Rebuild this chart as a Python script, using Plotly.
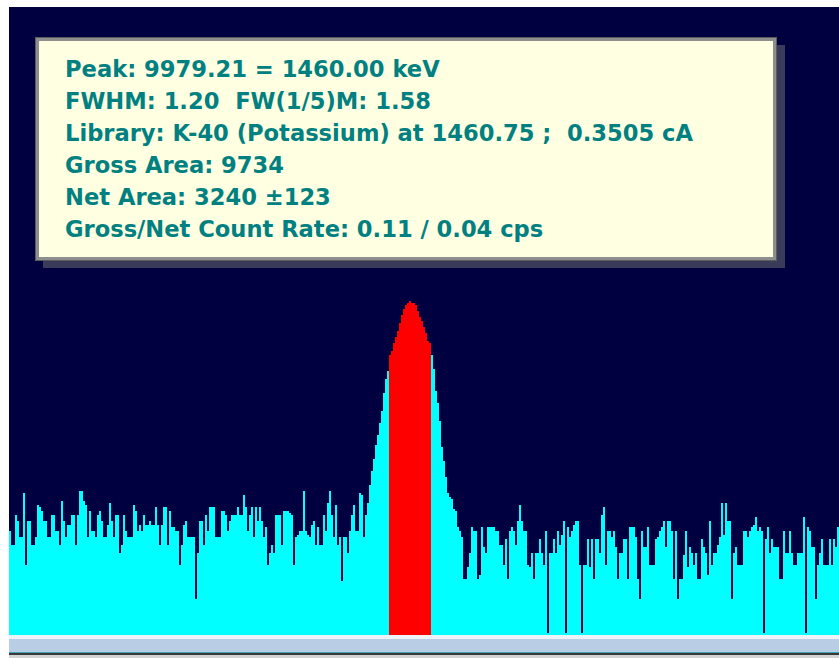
import plotly.graph_objects as go

# Canvas / plot-area geometry (pixels)
W, H = 839, 658
PLOT_L, PLOT_T, PLOT_B = 9, 7, 635

# Spectrum counts per display channel
counts_a = [52, 45, 45, 60, 57, 49, 49, 71, 35, 57, 57, 45, 45, 49, 65, 64, 62, 57, 57, 49,
            49, 60, 60, 52, 52, 45, 67, 57, 49, 55, 55, 60, 60, 45, 60, 72, 72, 67, 65, 49,
            62, 52, 52, 49, 60, 62, 57, 49, 49, 55, 66, 57, 49, 60, 60, 41, 45, 60, 52, 49,
            49, 49, 65, 62, 52, 55, 52, 60, 55, 55]
counts_b = [57, 55, 55, 64, 55, 45, 55, 64, 64, 45, 62, 54, 54, 52, 52, 35, 45, 55, 57, 49,
            49, 49, 49, 18, 41, 57, 57, 45, 60, 52, 64, 64, 64, 49, 49, 49, 62, 62, 60, 52,
            57, 60, 60, 60, 64, 60, 60, 70, 64, 52, 60, 64, 49, 64, 57, 64, 57, 49, 54, 35,
            41, 45, 41, 60, 60, 60, 45, 62, 62, 62]
counts_c = [61, 60, 35, 49, 50, 52, 52, 72, 52, 50, 49, 55, 57, 45, 54, 45, 45, 60, 52, 66,
            72, 60, 49, 65, 45, 49, 27, 49, 49, 41]
counts_left_flank = [52, 60, 65, 52, 52, 71, 70, 49, 60, 66, 75, 82, 88, 95, 100, 106, 112,
                     121, 128, 132]
counts_peak = [140, 142, 146, 149, 152, 156, 160, 163, 165, 166, 167, 166, 166, 165, 162,
               159, 157, 154, 151, 147, 146]
counts_d = [140, 133, 122, 116, 107, 94, 87, 79, 71, 69, 68, 63, 62, 54, 52, 49, 28, 28, 34, 41,
            54, 52, 52, 28, 30, 54, 44, 41, 54, 54, 54, 54, 52, 52, 45, 45, 35, 48, 28, 52,
            54, 52, 45, 57, 65, 57, 52, 52, 35, 34, 41, 28, 41, 41, 48, 41, 35, 52, 1, 41,
            41, 48, 41, 52, 45, 50, 57, 1]
counts_e = [54, 49, 52, 55, 57, 57, 35, 1, 35, 35, 48, 34, 48, 28, 48, 48, 41, 60, 64, 35,
            52, 52, 49, 52, 44, 28, 41, 41, 48, 48, 28, 54, 54, 54, 49, 28, 18, 52, 44, 44,
            54, 35, 35, 35, 48, 49, 52, 54, 57, 44, 57, 57, 52, 28, 52, 18, 28, 28, 40, 52,
            34, 44, 41, 35, 41, 28, 28, 48, 44, 41, 30]
counts_f = [57, 35, 41, 41, 45, 49, 66, 50, 66, 57, 57, 18, 41, 44, 35, 35, 35, 52, 52, 49,
            52, 54, 55, 59, 52, 54, 52, 1, 48, 54, 41, 48, 44, 44, 44, 28, 28, 52, 41, 41,
            52, 41, 35, 35, 41, 41, 41, 59, 1, 54, 52, 44, 44, 18, 35, 41, 48, 35, 35, 35,
            48, 35, 48, 44, 54]

counts = (counts_a + counts_b + counts_c + counts_left_flank + counts_peak
          + counts_d + counts_e + counts_f)
channels = list(range(len(counts)))

# Region of interest (peak) channels
roi_start = len(counts_a + counts_b + counts_c + counts_left_flank)
roi_end = roi_start + len(counts_peak) - 1

Y_MAX = 314

info_lines = [
    "Peak: 9979.21 = 1460.00 keV",
    "FWHM: 1.20 \u00a0FW(1/5)M: 1.58",
    "Library: K-40 (Potassium) at 1460.75 ; \u00a00.3505 cA",
    "Gross Area: 9734",
    "Net Area: 3240 \u00b1123",
    "Gross/Net Count Rate: 0.11 / 0.04 cps",
]

NAVY = "#000040"
CYAN = "#00FFFF"
RED = "#FF0000"
TEAL_TEXT = "#008080"
CREAM = "#FFFFE1"


def px_x(px):
    return (px - PLOT_L) / (W - PLOT_L)


def px_y(py):
    return (PLOT_B - py) / (PLOT_B - PLOT_T)


bar_colors = [RED if roi_start <= ch <= roi_end else CYAN for ch in channels]

fig = go.Figure(
    go.Bar(
        x=channels,
        y=counts,
        width=1,
        marker=dict(color=bar_colors, line=dict(width=0)),
        hoverinfo="skip",
    )
)


def rect(x0, y0, x1, y1, color):
    return dict(type="rect", xref="paper", yref="paper",
                x0=px_x(x0), x1=px_x(x1), y0=px_y(y1), y1=px_y(y0),
                fillcolor=color, line=dict(width=0), layer="above")


shapes = [
    # info box: shadow, frame, face
    rect(43, 45, 785, 268, "#3a3a5a"),
    rect(35, 37, 777, 261, "#5c5c5c"),
    rect(36, 38, 776, 260, "#8e8e8e"),
    rect(39, 41, 773, 257, CREAM),
    # strip under the spectrum
    rect(9, 635, 839, 639, "#EEF3F9"),
    rect(9, 639, 839, 652, "#B9CDE5"),
    rect(9, 652, 839, 653, "#3FA3B5"),
    rect(9, 653, 839, 655, "#3a3a3a"),
    rect(9, 655, 839, 658, "#D4D4D4"),
]

annotations = []
for i, line in enumerate(info_lines):
    annotations.append(dict(
        text=line, xref="paper", yref="paper",
        x=px_x(63), y=px_y(69 + 32 * i),
        xanchor="left", yanchor="middle", showarrow=False,
        font=dict(family="DejaVu Sans, Verdana, sans-serif", size=22.6,
                  color=TEAL_TEXT, weight="bold"),
    ))

fig.update_layout(
    width=W, height=H,
    margin=dict(l=PLOT_L, r=0, t=PLOT_T, b=H - PLOT_B),
    paper_bgcolor="white",
    plot_bgcolor=NAVY,
    bargap=0,
    showlegend=False,
    xaxis=dict(range=[-0.5, len(counts) - 0.5], visible=False, fixedrange=True),
    yaxis=dict(range=[0, Y_MAX], visible=False, fixedrange=True),
    shapes=shapes,
    annotations=annotations,
)

fig.write_html("out.html", config={"displayModeBar": False})
